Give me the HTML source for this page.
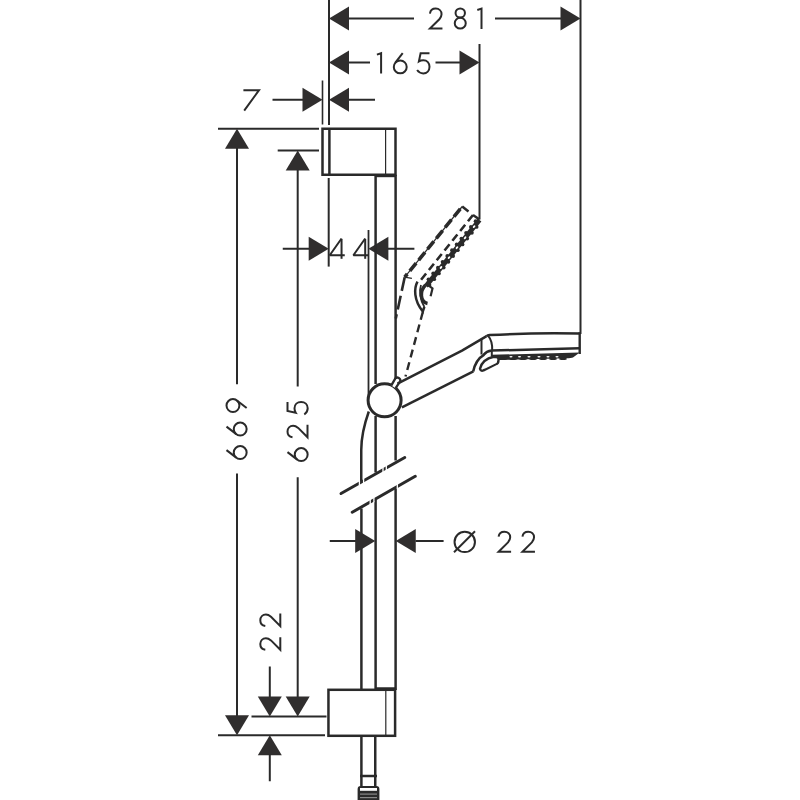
<!DOCTYPE html>
<html><head><meta charset="utf-8"><style>
html,body{margin:0;padding:0;background:#fff;width:800px;height:800px;overflow:hidden}
svg{display:block}
text{font-family:"Liberation Sans",sans-serif;fill:#2a2a2a}
</style></head><body>
<svg width="800" height="800" viewBox="0 0 800 800" stroke="#2a2a2a" fill="none">
<line x1="329" y1="0" x2="329" y2="125" stroke-width="2" />
<line x1="322.5" y1="80.5" x2="322.5" y2="124.5" stroke-width="1.6" />
<line x1="479.5" y1="44" x2="479.5" y2="219.5" stroke-width="2" />
<line x1="580.5" y1="0" x2="580.5" y2="334" stroke-width="2" />
<polygon points="329,18.5 349,6.5 349,30.5" fill="#302e2e" stroke="none"/>
<line x1="349" y1="18.5" x2="414" y2="18.5" stroke-width="2" />
<g transform="translate(428.75,7.6)" stroke-width="2"><path d="M1.2,6 C1.6,3 4,1 7,1 C10.3,1 12.8,3.4 12.8,6.6 C12.8,8.6 12,10 10.6,11.7 L1.2,21 H13.7"/></g>
<g transform="translate(453.75,7.6)" stroke-width="2"><ellipse cx="6.5" cy="5.4" rx="4.7" ry="4.5"/><ellipse cx="6.5" cy="15.6" rx="5.5" ry="5.4"/></g>
<g transform="translate(476.5,7.6)" stroke-width="2"><path d="M0.8,2.4 L5,1 V21.4"/></g>
<line x1="495" y1="18.5" x2="561" y2="18.5" stroke-width="2" />
<polygon points="580.5,18.5 560.5,6.5 560.5,30.5" fill="#302e2e" stroke="none"/>
<polygon points="329,62.5 349,50.5 349,74.5" fill="#302e2e" stroke="none"/>
<line x1="349" y1="62.5" x2="370" y2="62.5" stroke-width="2" />
<g transform="translate(376.1,52.2)" stroke-width="2"><path d="M0.8,2.4 L5,1 V21.4"/></g>
<g transform="translate(392.8,52.2)" stroke-width="2"><path d="M9.9,1 L2.35,10.75"/><circle cx="7.45" cy="14.7" r="6.45"/></g>
<g transform="translate(416.1,52.2)" stroke-width="2"><path d="M13.4,1 H4.5 L2.8,9.2 C4.2,8.3 5.6,8 7.2,8 C11,8 13.4,10.8 13.4,14.6 C13.4,18.4 10.8,21.2 7.2,21.2 C4.6,21.2 2.4,19.8 1,17.8"/></g>
<line x1="435.5" y1="62.5" x2="460" y2="62.5" stroke-width="2" />
<polygon points="479.5,62.5 459.5,50.5 459.5,74.5" fill="#302e2e" stroke="none"/>
<g transform="translate(243,89)" stroke-width="2"><path d="M0.4,1.2 H16 L1.2,21.6"/></g>
<line x1="272.5" y1="99.75" x2="303" y2="99.75" stroke-width="2" />
<polygon points="322.5,99.75 302.5,87.75 302.5,111.75" fill="#302e2e" stroke="none"/>
<polygon points="329,99.75 349,87.75 349,111.75" fill="#302e2e" stroke="none"/>
<line x1="349" y1="99.75" x2="375" y2="99.75" stroke-width="2" />
<line x1="218" y1="128.75" x2="319" y2="128.75" stroke-width="2" />
<line x1="277.7" y1="150.5" x2="319" y2="150.5" stroke-width="2" />
<polygon points="237,128.75 225,148.75 249,148.75" fill="#302e2e" stroke="none"/>
<line x1="237" y1="148" x2="237" y2="384.25" stroke-width="2" />
<g transform="translate(225.5,460) rotate(-90)" stroke-width="2"><path d="M9.9,1 L2.35,10.75"/><circle cx="7.45" cy="14.7" r="6.45"/></g>
<g transform="translate(225.5,436.5) rotate(-90)" stroke-width="2"><path d="M9.9,1 L2.35,10.75"/><circle cx="7.45" cy="14.7" r="6.45"/></g>
<g transform="translate(225.5,413) rotate(-90)" stroke-width="2"><g transform="rotate(180 7.45 11.075)"><path d="M9.9,1 L2.35,10.75"/><circle cx="7.45" cy="14.7" r="6.45"/></g></g>
<line x1="237" y1="473.5" x2="237" y2="716" stroke-width="2" />
<polygon points="237,735.2 225,715.2 249,715.2" fill="#302e2e" stroke="none"/>
<polygon points="297.7,150.5 285.7,170.5 309.7,170.5" fill="#302e2e" stroke="none"/>
<line x1="297.7" y1="170" x2="297.7" y2="386.5" stroke-width="2" />
<g transform="translate(286.5,462) rotate(-90)" stroke-width="2"><path d="M9.9,1 L2.35,10.75"/><circle cx="7.45" cy="14.7" r="6.45"/></g>
<g transform="translate(286.5,438.5) rotate(-90)" stroke-width="2"><path d="M1.2,6 C1.6,3 4,1 7,1 C10.3,1 12.8,3.4 12.8,6.6 C12.8,8.6 12,10 10.6,11.7 L1.2,21 H13.7"/></g>
<g transform="translate(286.5,415.5) rotate(-90)" stroke-width="2"><path d="M13.4,1 H4.5 L2.8,9.2 C4.2,8.3 5.6,8 7.2,8 C11,8 13.4,10.8 13.4,14.6 C13.4,18.4 10.8,21.2 7.2,21.2 C4.6,21.2 2.4,19.8 1,17.8"/></g>
<line x1="297.7" y1="477.25" x2="297.7" y2="697" stroke-width="2" />
<polygon points="297.7,716.45 285.7,696.45 309.7,696.45" fill="#302e2e" stroke="none"/>
<g transform="translate(259.3,651) rotate(-90)" stroke-width="2"><path d="M1.2,6 C1.6,3 4,1 7,1 C10.3,1 12.8,3.4 12.8,6.6 C12.8,8.6 12,10 10.6,11.7 L1.2,21 H13.7"/></g>
<g transform="translate(259.3,627.3) rotate(-90)" stroke-width="2"><path d="M1.2,6 C1.6,3 4,1 7,1 C10.3,1 12.8,3.4 12.8,6.6 C12.8,8.6 12,10 10.6,11.7 L1.2,21 H13.7"/></g>
<line x1="269.8" y1="666.5" x2="269.8" y2="697" stroke-width="2" />
<polygon points="269.8,716.45 257.8,696.45 281.8,696.45" fill="#302e2e" stroke="none"/>
<polygon points="269.8,735.2 257.8,755.2 281.8,755.2" fill="#302e2e" stroke="none"/>
<line x1="269.8" y1="754" x2="269.8" y2="781.25" stroke-width="2" />
<line x1="251.5" y1="716.45" x2="326.5" y2="716.45" stroke-width="2" />
<line x1="218" y1="735.2" x2="325" y2="735.2" stroke-width="2" />
<line x1="282.75" y1="248.75" x2="309" y2="248.75" stroke-width="2" />
<polygon points="328.7,248.75 308.7,236.75 308.7,260.75" fill="#302e2e" stroke="none"/>
<g transform="translate(328.75,237.3)" stroke-width="2"><path d="M12.8,21.5 V1.6"/><path d="M12.8,1.2 L1,18 H16" stroke-linejoin="bevel"/></g>
<g transform="translate(352.4,237.3)" stroke-width="2"><path d="M12.8,21.5 V1.6"/><path d="M12.8,1.2 L1,18 H16" stroke-linejoin="bevel"/></g>
<polygon points="368.4,248.75 388.4,236.75 388.4,260.75" fill="#302e2e" stroke="none"/>
<line x1="388" y1="248.75" x2="414.4" y2="248.75" stroke-width="2" />
<line x1="328.7" y1="178" x2="328.7" y2="266.6" stroke-width="2" />
<line x1="368.5" y1="230" x2="368.5" y2="398" stroke-width="1.8" />
<rect x="322.5" y="128.75" width="73" height="46" fill="none" stroke-width="2.5"/>
<line x1="329.4" y1="128.75" x2="329.4" y2="174.75" stroke-width="2.5" />
<line x1="385.6" y1="128.75" x2="385.6" y2="174.75" stroke-width="1.2" />
<line x1="375.6" y1="176.2" x2="395.6" y2="176.2" stroke-width="2" />
<line x1="375.6" y1="174.75" x2="375.6" y2="384" stroke-width="2.5" />
<line x1="395.6" y1="174.75" x2="395.6" y2="383" stroke-width="2.5" />
<line x1="375.6" y1="416" x2="375.6" y2="472.5" stroke-width="2.5" />
<line x1="395.6" y1="416" x2="395.6" y2="460.5" stroke-width="2.5" />
<line x1="375.6" y1="499.5" x2="375.6" y2="690" stroke-width="2.5" />
<line x1="395.6" y1="487.5" x2="395.6" y2="690" stroke-width="2.5" />
<line x1="375.6" y1="688.5" x2="395.6" y2="688.5" stroke-width="2.5" />
<path d="M368.8,411.5 C364,425 361.25,437 361.25,450 L361.25,482.25" fill="none" stroke-width="2.5"/>
<line x1="361.4" y1="508.5" x2="361.4" y2="690" stroke-width="2.5" />
<line x1="341" y1="493.5" x2="404.75" y2="457.5" stroke-width="3" stroke-linecap="round"/>
<line x1="352.25" y1="512.25" x2="415.25" y2="476.25" stroke-width="3" stroke-linecap="round"/>
<line x1="359.4" y1="480.70952000000005" x2="359.4" y2="485.50952" stroke-width="1.3" stroke="#fff"/>
<line x1="363.6" y1="478.33778" x2="363.6" y2="483.13777999999996" stroke-width="1.3" stroke="#fff"/>
<line x1="383" y1="467.3826" x2="383" y2="472.1826" stroke-width="1.3" stroke="#fff"/>
<line x1="386.3" y1="465.51909" x2="386.3" y2="470.31908999999996" stroke-width="1.3" stroke="#fff"/>
<line x1="370.2" y1="499.59337000000005" x2="370.2" y2="504.39337" stroke-width="1.3" stroke="#fff"/>
<line x1="373.9" y1="497.47919" x2="373.9" y2="502.27918999999997" stroke-width="1.3" stroke="#fff"/>
<line x1="397.3" y1="484.10843" x2="397.3" y2="488.90842999999995" stroke-width="1.3" stroke="#fff"/>
<line x1="329.75" y1="541" x2="356" y2="541" stroke-width="2" />
<polygon points="375.2,541 355.2,529 355.2,553" fill="#302e2e" stroke="none"/>
<polygon points="395.75,541 415.75,529 415.75,553" fill="#302e2e" stroke="none"/>
<line x1="415.5" y1="541" x2="443.6" y2="541" stroke-width="2" />
<g transform="translate(453.5,530.7)" stroke-width="2"><circle cx="11.25" cy="11.2" r="10.2"/><path d="M0.5,21.5 L21.5,0.5"/></g>
<g transform="translate(497.4,530.7)" stroke-width="2"><path d="M1.2,6 C1.6,3 4,1 7,1 C10.3,1 12.8,3.4 12.8,6.6 C12.8,8.6 12,10 10.6,11.7 L1.2,21 H13.7"/></g>
<g transform="translate(521.25,530.7)" stroke-width="2"><path d="M1.2,6 C1.6,3 4,1 7,1 C10.3,1 12.8,3.4 12.8,6.6 C12.8,8.6 12,10 10.6,11.7 L1.2,21 H13.7"/></g>
<rect x="328.45" y="689.8" width="66.65" height="46" fill="none" stroke-width="2.5"/>
<line x1="385.8" y1="689.8" x2="385.8" y2="735.8" stroke-width="1.2" />
<line x1="361.4" y1="736" x2="361.4" y2="786" stroke-width="2.5" />
<line x1="375.25" y1="736" x2="375.25" y2="786" stroke-width="2.5" />
<line x1="360" y1="776" x2="377" y2="776" stroke-width="2.5" />
<path d="M357.6,800 L357.6,789 Q357.6,786 360.6,786 L376.4,786 Q379.4,786 379.4,789 L379.4,800" fill="#2a2a2a" stroke="none"/>
<rect x="360" y="788" width="17" height="2.8" fill="#fff" stroke="none"/>
<rect x="360" y="793.5" width="17" height="1.2" fill="#888" stroke="none"/>
<rect x="360" y="797" width="17" height="1.2" fill="#888" stroke="none"/>
<circle cx="384.6" cy="400.3" r="16.5" fill="#fff" stroke-width="3"/>
<path d="M391.2,385.6 L395.2,378.6 A2.9,2.9 0 0 1 400.2,381.3 L395.6,388.2" fill="#fff" stroke-width="2.3"/>
<path d="M397.5,383.6 L462,350.6 L486.6,336.2" fill="none" stroke-width="2.5" stroke-linejoin="round"/>
<line x1="401.9" y1="407.3" x2="473.4" y2="371.4" stroke-width="2.5" />
<path d="M486.6,336.2 Q487.6,335.2 489.5,335.1 Q535,332.6 579.7,333.6" fill="none" stroke-width="2.5"/>
<line x1="579.7" y1="332.2" x2="579.7" y2="354" stroke-width="2.4" />
<path d="M488,335.6 C491,339 492.6,344 492.2,351" fill="none" stroke-width="2"/>
<line x1="481.5" y1="339.5" x2="481.5" y2="354.5" stroke-width="2" />
<path d="M483.5,355 Q486.5,351.3 491.6,350.6 L579.7,348.3" fill="none" stroke-width="2.5"/>
<line x1="491.8" y1="350.6" x2="491.8" y2="356.6" stroke-width="2" />
<path d="M491.6,354.8 L579.7,352.6 L573,357.6 Q570,358.5 567,358.2 L500,360 Q495,360.5 491.6,359.6 Z" fill="#2a2a2a" stroke="none"/>
<ellipse cx="511" cy="356.8" rx="1.6" ry="0.7" fill="#fff" stroke="none"/>
<ellipse cx="519.5" cy="356.8" rx="1.6" ry="0.7" fill="#fff" stroke="none"/>
<ellipse cx="529" cy="356.8" rx="1.6" ry="0.7" fill="#fff" stroke="none"/>
<ellipse cx="539" cy="356.8" rx="1.6" ry="0.7" fill="#fff" stroke="none"/>
<ellipse cx="548" cy="356.8" rx="1.6" ry="0.7" fill="#fff" stroke="none"/>
<ellipse cx="557" cy="356.8" rx="1.6" ry="0.7" fill="#fff" stroke="none"/>
<ellipse cx="503" cy="358.9" rx="3.8" ry="1.1" fill="#2a2a2a" stroke="none"/>
<ellipse cx="513" cy="358.9" rx="3.8" ry="1.1" fill="#2a2a2a" stroke="none"/>
<ellipse cx="523" cy="358.9" rx="3.8" ry="1.1" fill="#2a2a2a" stroke="none"/>
<ellipse cx="533" cy="358.9" rx="3.8" ry="1.1" fill="#2a2a2a" stroke="none"/>
<ellipse cx="543" cy="358.9" rx="3.8" ry="1.1" fill="#2a2a2a" stroke="none"/>
<ellipse cx="553" cy="358.9" rx="3.8" ry="1.1" fill="#2a2a2a" stroke="none"/>
<ellipse cx="563" cy="358.9" rx="3.8" ry="1.1" fill="#2a2a2a" stroke="none"/>
<path d="M473.2,371.6 C474.5,365 478.5,358 484.2,354.6" fill="none" stroke-width="2.5"/>
<path d="M480,368.8 C481.5,362.5 486.5,358.3 493.8,356.8 L497.6,357.4 Q498.6,358 498.5,360 L498.3,362 Q498.1,363.2 496.8,363.8 L483.5,370.4 Q480.5,371.4 480,368.8 Z" fill="#fff" stroke-width="2.4" stroke-linejoin="round"/>
<line x1="484.5" y1="368.3" x2="496.5" y2="362.5" stroke-width="0.8" stroke="#fff"/>
<path d="M468.5,211.5 L462.2,206.5" fill="none" stroke-width="2.5"/>
<path d="M462.2,206.5 L404.7,277.2" fill="none" stroke-width="1.2"/>
<path d="M462.2,206.5 L404.7,277.2" fill="none" stroke-width="3.6" stroke-dasharray="10,4" stroke-dashoffset="-3"/>
<path d="M404.7,277.2 L411.9,278.4" fill="none" stroke-width="1.3"/>
<path d="M404.7,277.2 L395.8,318.5" fill="none" stroke-width="2.6" stroke-dasharray="14,5"/>
<path d="M479.5,219.5 L473,215" fill="none" stroke-width="2.5"/>
<path d="M473,215 L418.5,283" fill="none" stroke-width="2.6" stroke-dasharray="8,4.5"/>
<path d="M479.5,220 L426,286" fill="none" stroke-width="4.8"/>
<circle cx="475.6" cy="221.2" r="1.9" fill="#2a2a2a" stroke="none"/>
<circle cx="476.6" cy="226.9" r="1.9" fill="#2a2a2a" stroke="none"/>
<circle cx="470.9" cy="227.0" r="1.9" fill="#2a2a2a" stroke="none"/>
<circle cx="471.9" cy="232.8" r="1.9" fill="#2a2a2a" stroke="none"/>
<circle cx="466.1" cy="232.8" r="1.9" fill="#2a2a2a" stroke="none"/>
<circle cx="467.2" cy="238.6" r="1.9" fill="#2a2a2a" stroke="none"/>
<circle cx="461.4" cy="238.6" r="1.9" fill="#2a2a2a" stroke="none"/>
<circle cx="462.5" cy="244.4" r="1.9" fill="#2a2a2a" stroke="none"/>
<circle cx="456.7" cy="244.4" r="1.9" fill="#2a2a2a" stroke="none"/>
<circle cx="457.8" cy="250.2" r="1.9" fill="#2a2a2a" stroke="none"/>
<circle cx="452.0" cy="250.2" r="1.9" fill="#2a2a2a" stroke="none"/>
<circle cx="453.1" cy="256.0" r="1.9" fill="#2a2a2a" stroke="none"/>
<circle cx="447.3" cy="256.0" r="1.9" fill="#2a2a2a" stroke="none"/>
<circle cx="448.4" cy="261.8" r="1.9" fill="#2a2a2a" stroke="none"/>
<circle cx="442.6" cy="261.8" r="1.9" fill="#2a2a2a" stroke="none"/>
<circle cx="443.7" cy="267.6" r="1.9" fill="#2a2a2a" stroke="none"/>
<circle cx="437.9" cy="267.7" r="1.9" fill="#2a2a2a" stroke="none"/>
<circle cx="438.9" cy="273.4" r="1.9" fill="#2a2a2a" stroke="none"/>
<circle cx="433.2" cy="273.5" r="1.9" fill="#2a2a2a" stroke="none"/>
<circle cx="434.2" cy="279.2" r="1.9" fill="#2a2a2a" stroke="none"/>
<circle cx="428.5" cy="279.3" r="1.9" fill="#2a2a2a" stroke="none"/>
<circle cx="429.5" cy="285.0" r="1.9" fill="#2a2a2a" stroke="none"/>
<ellipse cx="474.1" cy="226.6" rx="1.6" ry="1" transform="rotate(-49 474.1 226.6)" fill="#fff" stroke="none"/>
<ellipse cx="465.1" cy="237.8" rx="1.6" ry="1" transform="rotate(-49 465.1 237.8)" fill="#fff" stroke="none"/>
<ellipse cx="457.0" cy="247.7" rx="1.6" ry="1" transform="rotate(-49 457.0 247.7)" fill="#fff" stroke="none"/>
<ellipse cx="449.0" cy="257.6" rx="1.6" ry="1" transform="rotate(-49 449.0 257.6)" fill="#fff" stroke="none"/>
<ellipse cx="441.0" cy="267.5" rx="1.6" ry="1" transform="rotate(-49 441.0 267.5)" fill="#fff" stroke="none"/>
<path d="M417.5,281.6 C414,288 413.5,300 422.8,311.5 L424.4,306.9" fill="none" stroke-width="2.5"/>
<path d="M421,285 C419,291 420,300 424.4,306.9" fill="none" stroke-width="1.8"/>
<path d="M425.5,285 C419.5,291 420,302 427.5,303.5" fill="none" stroke-width="3.5"/>
<path d="M428.75,285.6 L432.5,288.5 L430.6,296.25" fill="none" stroke-width="2.2"/>
<path d="M422.8,312 L405.5,376.5" fill="none" stroke-width="2.4" stroke-dasharray="8,5"/>
</svg>
</body></html>
